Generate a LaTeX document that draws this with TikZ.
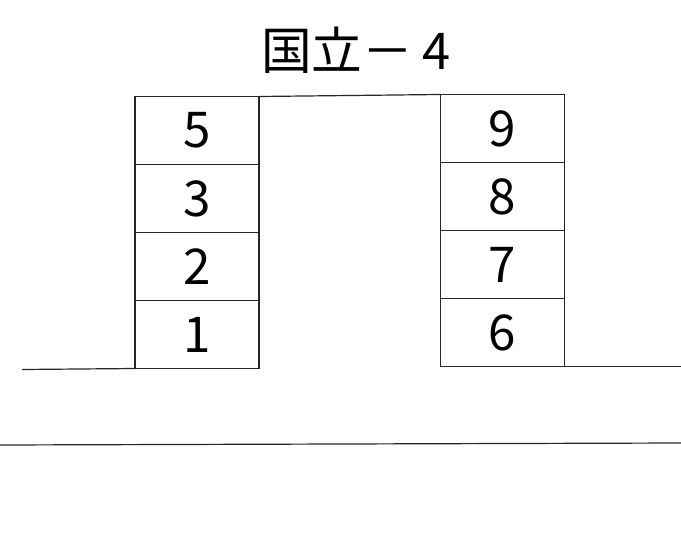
\documentclass[tikz,border=0pt]{standalone}
\usepackage{fontspec}
\newfontfamily\jpfont{Noto Sans CJK JP}
\usetikzlibrary{positioning}
\tikzset{%
cell/.style={draw,rectangle,minimum width=93pt,minimum height=51pt,inner sep=0,outer sep=0,font=\jpfont\fontsize{37}{37}\selectfont},
title/.style={font=\jpfont\fontsize{38}{38}\selectfont,inner sep=0},
wall/.style={line width=0.9pt,draw=black!85}
}
\begin{document}
\begin{tikzpicture}[x=0.75pt,y=-0.75pt,every node/.style={line width=0.9pt,draw=black!85}]
  \useasboundingbox (0,0) rectangle (681,535);

  \node[title,draw=none] (name) at (356,50) {国立－\hspace{7pt}4};

  \node[cell] (c1) at (197,334.5) {1};
  \node[cell,above=0pt of c1] (c2) {2};
  \node[cell,above=0pt of c2] (c3) {3};
  \node[cell,above=0pt of c3] (c5) {5};

  \node[cell] (c6) at (502.5,332.5) {6};
  \node[cell,above=0pt of c6] (c7) {7};
  \node[cell,above=0pt of c7] (c8) {8};
  \node[cell,above=0pt of c8] (c9) {9};

  \coordinate (gl) at (22,369.5);
  \coordinate (gr) at (681,366.5);
  \coordinate (rl) at (0,445);
  \coordinate (rr) at (681,443);

  \draw[wall] (c5.north east) -- (c9.north west);
  \draw[wall] (gl) -- (c1.south west);
  \draw[wall] (c6.south east) -- (gr);
  \draw[wall] (rl) -- (rr);

\end{tikzpicture}
\end{document}
